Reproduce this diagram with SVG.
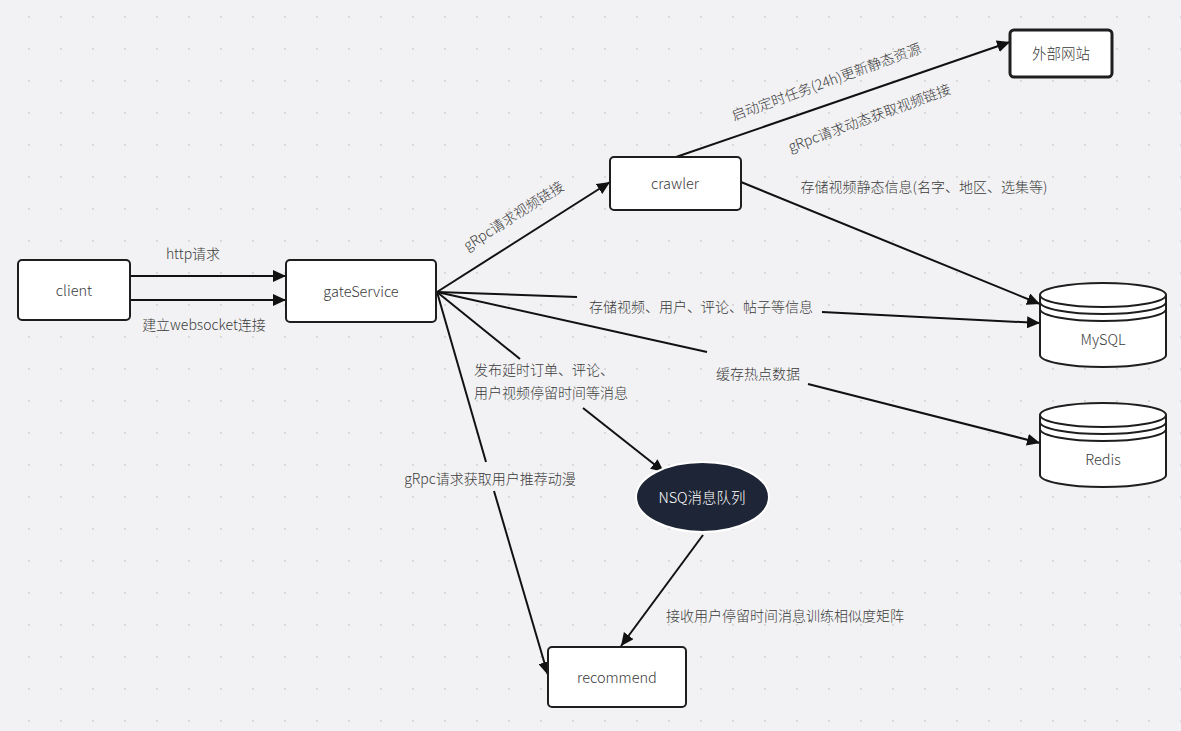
<svg xmlns="http://www.w3.org/2000/svg" width="1181" height="731" viewBox="0 0 1181 731">
<style>
.bg{fill:#f2f2f4}
.box{fill:#ffffff;stroke:#1e1e1e;stroke-width:2}
.thick{stroke-width:3}
.cyl{fill:#ffffff;stroke:#1e1e1e;stroke-width:2}
.cylline{fill:none;stroke:#1e1e1e;stroke-width:2}
.ntxt{font-family:"Noto Sans CJK SC","Noto Sans",sans-serif;font-size:14.5px;font-weight:300;fill:#3a3a3a;text-anchor:middle;dominant-baseline:central}
.ltxt{font-family:"Noto Sans CJK SC","Noto Sans",sans-serif;font-size:14px;font-weight:300;fill:#3a3a3a}
.mid{text-anchor:middle;dominant-baseline:central}
.edge{fill:none;stroke:#111111;stroke-width:2}
</style>
<defs>
<pattern id="dots" x="13" y="1" width="32" height="32" patternUnits="userSpaceOnUse">
<rect x="15.25" y="15.25" width="1.5" height="1.5" fill="#c6c6ca"/>
</pattern>
<marker id="arr" markerWidth="14" markerHeight="12" refX="13" refY="6" orient="auto" markerUnits="userSpaceOnUse">
<path d="M0,0 L13,6 L0,12 Z" fill="#111111"/>
</marker>
</defs>
<rect class="bg" x="0" y="0" width="1181" height="731"/>
<rect x="0" y="0" width="1181" height="731" fill="url(#dots)"/>

<g id="connectors">
<line class="edge" x1="130" y1="276" x2="286" y2="276" marker-end="url(#arr)"/>
<text class="ltxt mid" x="193" y="253">http请求</text>
<line class="edge" x1="130" y1="300" x2="286" y2="300" marker-end="url(#arr)"/>
<text class="ltxt mid" x="204" y="324">建立websocket连接</text>

<line class="edge" x1="437" y1="292" x2="610" y2="182" marker-end="url(#arr)"/>
<text class="ltxt mid" transform="translate(513,215) rotate(-32.5)">gRpc请求视频链接</text>

<line class="edge" x1="676" y1="157" x2="1010" y2="42" marker-end="url(#arr)"/>
<text class="ltxt mid" transform="translate(826,81) rotate(-20)">启动定时任务(24h)更新静态资源</text>
<text class="ltxt mid" transform="translate(869,117) rotate(-20)">gRpc请求动态获取视频链接</text>

<line class="edge" x1="741" y1="182" x2="1040" y2="304" marker-end="url(#arr)"/>
<text class="ltxt mid" x="924" y="186">存储视频静态信息(名字、地区、选集等)</text>

<line class="edge" x1="437" y1="292" x2="577" y2="297"/>
<line class="edge" x1="822" y1="312" x2="1040" y2="323" marker-end="url(#arr)"/>
<text class="ltxt mid" x="701" y="306">存储视频、用户、评论、帖子等信息</text>

<line class="edge" x1="437" y1="292" x2="707" y2="352"/>
<line class="edge" x1="808" y1="384" x2="1040" y2="443" marker-end="url(#arr)"/>
<text class="ltxt mid" x="758" y="373">缓存热点数据</text>

<line class="edge" x1="437" y1="292" x2="520" y2="359"/>
<line class="edge" x1="583" y1="408" x2="664" y2="472" marker-end="url(#arr)"/>
<text class="ltxt" x="474" y="375">发布延时订单、评论、</text>
<text class="ltxt" x="474" y="398">用户视频停留时间等消息</text>

<line class="edge" x1="437" y1="292" x2="486" y2="462"/>
<line class="edge" x1="494" y1="491" x2="548" y2="675" marker-end="url(#arr)"/>
<text class="ltxt mid" x="490" y="478">gRpc请求获取用户推荐动漫</text>

<line class="edge" x1="703" y1="535" x2="621" y2="646" marker-end="url(#arr)"/>
<text class="ltxt mid" x="785" y="615">接收用户停留时间消息训练相似度矩阵</text>
</g>

<g id="client">
<rect class="box" x="18" y="260" width="112" height="60" rx="4"/>
<text class="ntxt" x="74" y="289">client</text>
</g>
<g id="gateService">
<rect class="box" x="286" y="260" width="150" height="62" rx="4"/>
<text class="ntxt" x="361" y="290">gateService</text>
</g>
<g id="crawler">
<rect class="box" x="610" y="157" width="131" height="53" rx="4"/>
<text class="ntxt" x="675" y="182">crawler</text>
</g>
<g id="external">
<rect class="box thick" x="1010" y="30" width="102" height="47" rx="4"/>
<text class="ntxt" x="1061" y="52">外部网站</text>
</g>
<g id="mysql">
<path class="cyl" d="M1040,295 L1040,355 A63,12 0 0 0 1166,355 L1166,295"/>
<ellipse class="cyl" cx="1103" cy="295" rx="63" ry="12"/>
<path class="cylline" d="M1040,302 A63,12 0 0 0 1166,302"/>
<path class="cylline" d="M1040,309 A63,12 0 0 0 1166,309"/>
<text class="ntxt" x="1103" y="338">MySQL</text>
</g>
<g id="redis">
<path class="cyl" d="M1040,415 L1040,475 A63,12 0 0 0 1166,475 L1166,415"/>
<ellipse class="cyl" cx="1103" cy="415" rx="63" ry="12"/>
<path class="cylline" d="M1040,422 A63,12 0 0 0 1166,422"/>
<path class="cylline" d="M1040,429 A63,12 0 0 0 1166,429"/>
<text class="ntxt" x="1103" y="458">Redis</text>
</g>
<g id="nsq">
<ellipse cx="702.5" cy="497" rx="66.5" ry="35" fill="#1e2536" stroke="#ffffff" stroke-width="2"/>
<text class="ntxt" x="702" y="496" style="fill:#ffffff">NSQ消息队列</text>
</g>
<g id="recommend">
<rect class="box" x="548" y="647" width="138" height="60" rx="4"/>
<text class="ntxt" x="617" y="676">recommend</text>
</g>
</svg>
